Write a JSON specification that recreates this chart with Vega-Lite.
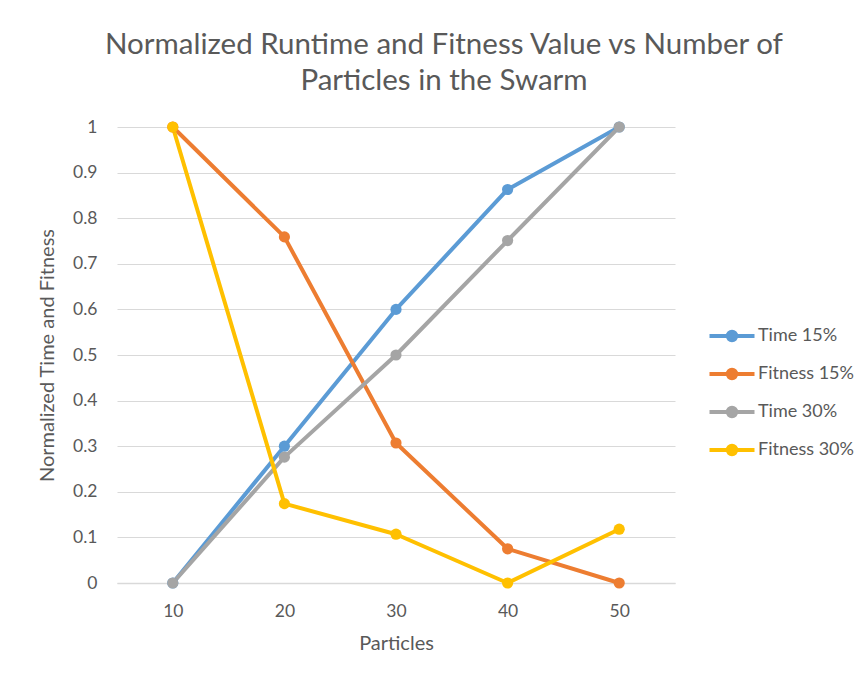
{
  "$schema": "https://vega.github.io/schema/vega-lite/v6.json",
  "width": 558,
  "height": 456,
  "autosize": {"type": "none"},
  "padding": {"left": 117, "top": 127, "right": 192, "bottom": 95},
  "background": "white",
  "title": {
    "text": ["Normalized Runtime and Fitness Value vs Number of", "Particles in the Swarm"],
    "font": "Lato",
    "fontSize": 29.5,
    "fontWeight": "normal",
    "color": "#595959",
    "anchor": "middle",
    "dx": 48,
    "lineHeight": 36,
    "offset": 22
  },
  "data": {
    "values": [
      {"Particles": 10, "series": "Time 15%", "value": 0},
      {"Particles": 20, "series": "Time 15%", "value": 0.3},
      {"Particles": 30, "series": "Time 15%", "value": 0.6},
      {"Particles": 40, "series": "Time 15%", "value": 0.863},
      {"Particles": 50, "series": "Time 15%", "value": 1},
      {"Particles": 10, "series": "Fitness 15%", "value": 1},
      {"Particles": 20, "series": "Fitness 15%", "value": 0.759},
      {"Particles": 30, "series": "Fitness 15%", "value": 0.307},
      {"Particles": 40, "series": "Fitness 15%", "value": 0.075},
      {"Particles": 50, "series": "Fitness 15%", "value": 0},
      {"Particles": 10, "series": "Time 30%", "value": 0},
      {"Particles": 20, "series": "Time 30%", "value": 0.276},
      {"Particles": 30, "series": "Time 30%", "value": 0.5},
      {"Particles": 40, "series": "Time 30%", "value": 0.751},
      {"Particles": 50, "series": "Time 30%", "value": 1},
      {"Particles": 10, "series": "Fitness 30%", "value": 1},
      {"Particles": 20, "series": "Fitness 30%", "value": 0.174},
      {"Particles": 30, "series": "Fitness 30%", "value": 0.107},
      {"Particles": 40, "series": "Fitness 30%", "value": 0},
      {"Particles": 50, "series": "Fitness 30%", "value": 0.118}
    ]
  },
  "encoding": {
    "x": {
      "field": "Particles",
      "type": "ordinal",
      "scale": {"type": "point", "padding": 0.5},
      "axis": {
        "title": "Particles",
        "labelAngle": 0,
        "grid": false,
        "domain": true,
        "domainColor": "#D9D9D9",
        "domainWidth": 1.5,
        "ticks": false,
        "tickSize": 0,
        "labelPadding": 19,
        "titlePadding": 14
      }
    },
    "y": {
      "field": "value",
      "type": "quantitative",
      "scale": {"domain": [0, 1], "nice": false, "zero": true},
      "axis": {
        "title": "Normalized Time and Fitness",
        "values": [0, 0.1, 0.2, 0.3, 0.4, 0.5, 0.6, 0.7, 0.8, 0.9, 1],
        "format": ".1~f",
        "grid": true,
        "gridColor": "#D9D9D9",
        "gridWidth": 1.2,
        "domain": false,
        "ticks": false,
        "tickSize": 0,
        "labelPadding": 20,
        "titlePadding": 15
      }
    },
    "color": {
      "field": "series",
      "type": "nominal",
      "sort": ["Time 15%", "Fitness 15%", "Time 30%", "Fitness 30%"],
      "scale": {
        "domain": ["Time 15%", "Fitness 15%", "Time 30%", "Fitness 30%"],
        "range": ["#5B9BD5", "#ED7D31", "#A5A5A5", "#FFC000"]
      },
      "legend": {
        "title": null,
        "orient": "none",
        "legendX": 603,
        "legendY": 197,
        "symbolType": "M-2.25,0 L2.25,0 M0.42,0 A0.42,0.42 0 1,1 -0.42,0 A0.42,0.42 0 1,1 0.42,0 Z",
        "symbolSize": 400,
        "symbolStrokeWidth": 4,
        "labelOffset": 14,
        "rowPadding": 12,
        "labelFont": "Lato",
        "labelFontSize": 18,
        "labelColor": "#595959",
        "encode": {
          "symbols": {
            "update": {
              "fill": {"scale": "color", "field": "value"},
              "stroke": {"scale": "color", "field": "value"},
              "opacity": {"value": 1}
            }
          }
        }
      }
    }
  },
  "layer": [
    {
      "mark": {"type": "line", "strokeWidth": 4, "strokeCap": "round", "strokeJoin": "round"}
    },
    {
      "mark": {"type": "point", "filled": true, "opacity": 1, "size": 125, "shape": "circle"}
    }
  ],
  "config": {
    "view": {"stroke": null},
    "font": "Lato",
    "axis": {
      "labelFont": "Lato",
      "labelFontSize": 17.5,
      "labelColor": "#595959",
      "titleFont": "Lato",
      "titleFontSize": 20,
      "titleFontWeight": "normal",
      "titleColor": "#595959"
    }
  }
}
